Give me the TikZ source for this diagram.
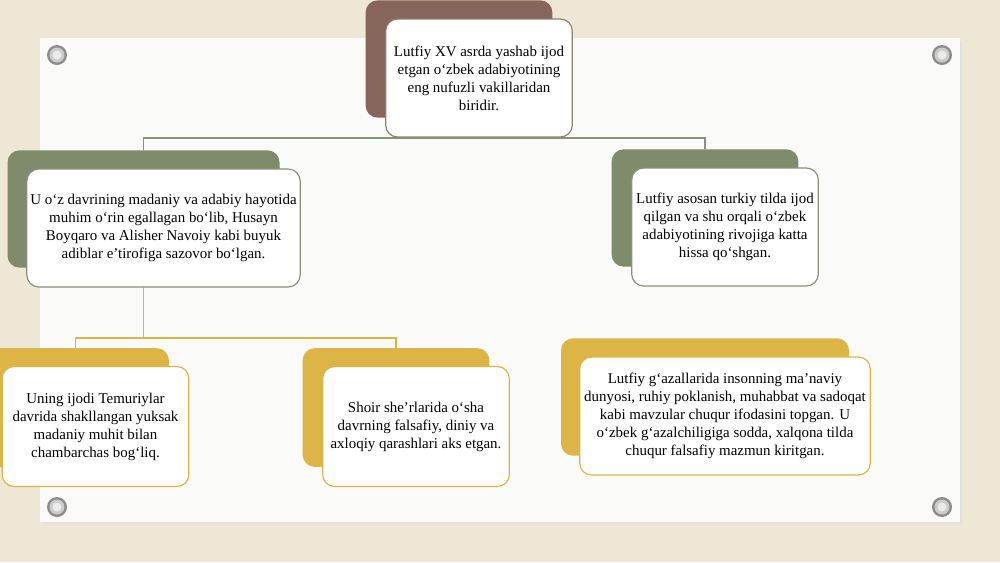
\documentclass[tikz,border=0pt]{standalone}
\usepackage{fontspec}
\setmainfont{Liberation Serif}
\usepackage{tikz}
\usetikzlibrary{shapes}

\definecolor{canvas}{HTML}{EEE7D5}
\definecolor{paper}{HTML}{FAFAF8}
\definecolor{brn}{HTML}{86655A}
\definecolor{grn}{HTML}{7F8B6A}
\definecolor{gld}{HTML}{DDB547}
\definecolor{brnline}{HTML}{8E8078}
\definecolor{grnline}{HTML}{8A917A}

\begin{document}
\begin{tikzpicture}[x=0.75pt,y=-0.75pt,font=\fontsize{11.2}{13.5}\selectfont]
\tikzstyle{bk}=[rounded corners=9pt,minimum width=140pt,minimum height=88pt]
\tikzstyle{fr}=[rounded corners=9pt,minimum width=140pt,minimum height=88.5pt,fill=white,line width=0.9pt,align=center,inner sep=2pt]
\tikzstyle{ln1}=[draw=grnline,line width=1pt]
\tikzstyle{ln2}=[draw=gld,line width=1pt]
\clip (0,0) rectangle (1000,562);
\fill[canvas] (0,0) rectangle (1000,562);
\fill[black!12] (42,41) rectangle (962,524);
\fill[paper] (40,38) rectangle (960,522);
\foreach \sx/\sy in {57/55,942/55,57/507,942/507}{
  \fill[black!45] (\sx,\sy) circle (10);
  \fill[black!20] (\sx,\sy) circle (7.5);
  \fill[black!8] (\sx,\sy) circle (4.5);
}

% back boxes
\node [bk,fill=brn] (rb) at (459,59) {};
\node [bk,fill=grn,minimum width=204pt] (lgb) at (143.5,209) {};
\node [bk,fill=grn] (rgb) at (705,208) {};
\node [bk,fill=gld,minimum width=216pt] (grb) at (705,397) {};
\node [bk,fill=gld,minimum height=89pt] (glb) at (75.5,407.5) {};
\node [bk,fill=gld,minimum height=89pt] (gmb) at (396,407.5) {};

% connectors
\draw[ln1] (rb.south) -- ++(0,20) -| (lgb.north);
\draw[ln1] (rb.south) -- ++(0,20) -| (rgb.north);
\draw[ln2] (lgb.south) -- ++(0,70) -| (glb.north);
\draw[ln2] (lgb.south) -- ++(0,70) -| (gmb.north);

% front boxes
\node [fr,draw=brnline,shift={(20,19)}] (rf) at (rb) {Lutfiy XV asrda yashab ijod\\etgan o‘zbek adabiyotining\\eng nufuzli vakillaridan\\biridir.};
\node [fr,draw=grnline,minimum width=205pt,shift={(20,19)}] (lgf) at (lgb) {U o‘z davrining madaniy va adabiy hayotida\\muhim o‘rin egallagan bo‘lib, Husayn\\Boyqaro va Alisher Navoiy kabi buyuk\\adiblar e’tirofiga sazovor bo‘lgan.};
\node [fr,draw=grnline,shift={(20,19)}] (rgf) at (rgb) {Lutfiy asosan turkiy tilda ijod\\qilgan va shu orqali o‘zbek\\adabiyotining rivojiga katta\\hissa qo‘shgan.};
\node [fr,draw=gld,minimum width=218pt,shift={(20,19)}] (grf) at (grb) {Lutfiy g‘azallarida insonning ma’naviy\\dunyosi, ruhiy poklanish, muhabbat va sadoqat\\kabi mavzular chuqur ifodasini topgan. U\\o‘zbek g‘azalchiligiga sodda, xalqona tilda\\chuqur falsafiy mazmun kiritgan.};
\node [fr,draw=gld,minimum height=90pt,shift={(20,19)}] (glf) at (glb) {Uning ijodi Temuriylar\\davrida shakllangan yuksak\\madaniy muhit bilan\\chambarchas bog‘liq.};
\node [fr,draw=gld,minimum height=90pt,shift={(20,19)}] (gmf) at (gmb) {Shoir she’rlarida o‘sha\\davrning falsafiy, diniy va\\axloqiy qarashlari aks etgan.};
\end{tikzpicture}
\end{document}
